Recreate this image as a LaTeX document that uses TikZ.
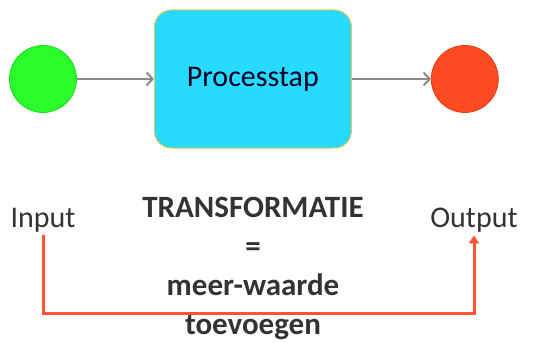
\documentclass[tikz,border=0pt]{standalone}
\usepackage{fontspec}
\setmainfont{Carlito}
\usetikzlibrary{arrows.meta,positioning}
\definecolor{groen}{HTML}{2BFB2B}
\definecolor{groenrand}{HTML}{22D822}
\definecolor{rood}{HTML}{FF4B22}
\definecolor{roodrand}{HTML}{E03A18}
\definecolor{blauw}{HTML}{27DAFF}
\definecolor{boxrand}{HTML}{E6C85A}
\definecolor{pijlgrijs}{HTML}{8A8A8A}
\definecolor{lijnrood}{HTML}{FF5533}
\definecolor{tekst}{HTML}{333333}

\begin{document}
\begin{tikzpicture}
[x=1pt,y=-1pt,every node/.style={font=\fontsize{30}{39}\selectfont,text=tekst},
 dot/.style={circle,minimum size=67pt,inner sep=0pt,line width=0.8pt},
 stap/.style={rounded corners=17pt,rectangle,draw=boxrand,fill=blauw,line width=1pt,
   minimum width=197pt,minimum height=138pt,text=black!85!blue},
 flow/.style={draw=pijlgrijs,line width=2pt,-{Straight Barb[length=6pt,width=13pt]}},
 terug/.style={draw=lijnrood,line width=3pt,-{Triangle[length=8pt,width=10pt]}}]

\useasboundingbox (0,0) rectangle (553,342);

\node[dot,fill=groen,draw=groenrand] (begin) at (43,79) {};
\node[stap,right=77pt of begin] (processtap) {Processtap};
\node[dot,fill=rood,draw=roodrand,right=79pt of processtap] (eind) {};

\node[anchor=base] (input) at (43,227) {Input};
\node[anchor=base] (output) at (474,227) {Output};
\node[align=center,anchor=north,inner sep=0pt,font=\fontsize{31}{39}\selectfont\bfseries] (transformatie) at (253,197)
  {TRANSFORMATIE\\=\\meer-waarde\\toevoegen};

\coordinate (onder) at (0,313);
\draw[flow] (begin) -- (processtap);
\draw[flow] (processtap) -- (eind);
\draw[terug] (input.south) -- (input.south |- onder) -| (output.south);
\end{tikzpicture}
\end{document}
